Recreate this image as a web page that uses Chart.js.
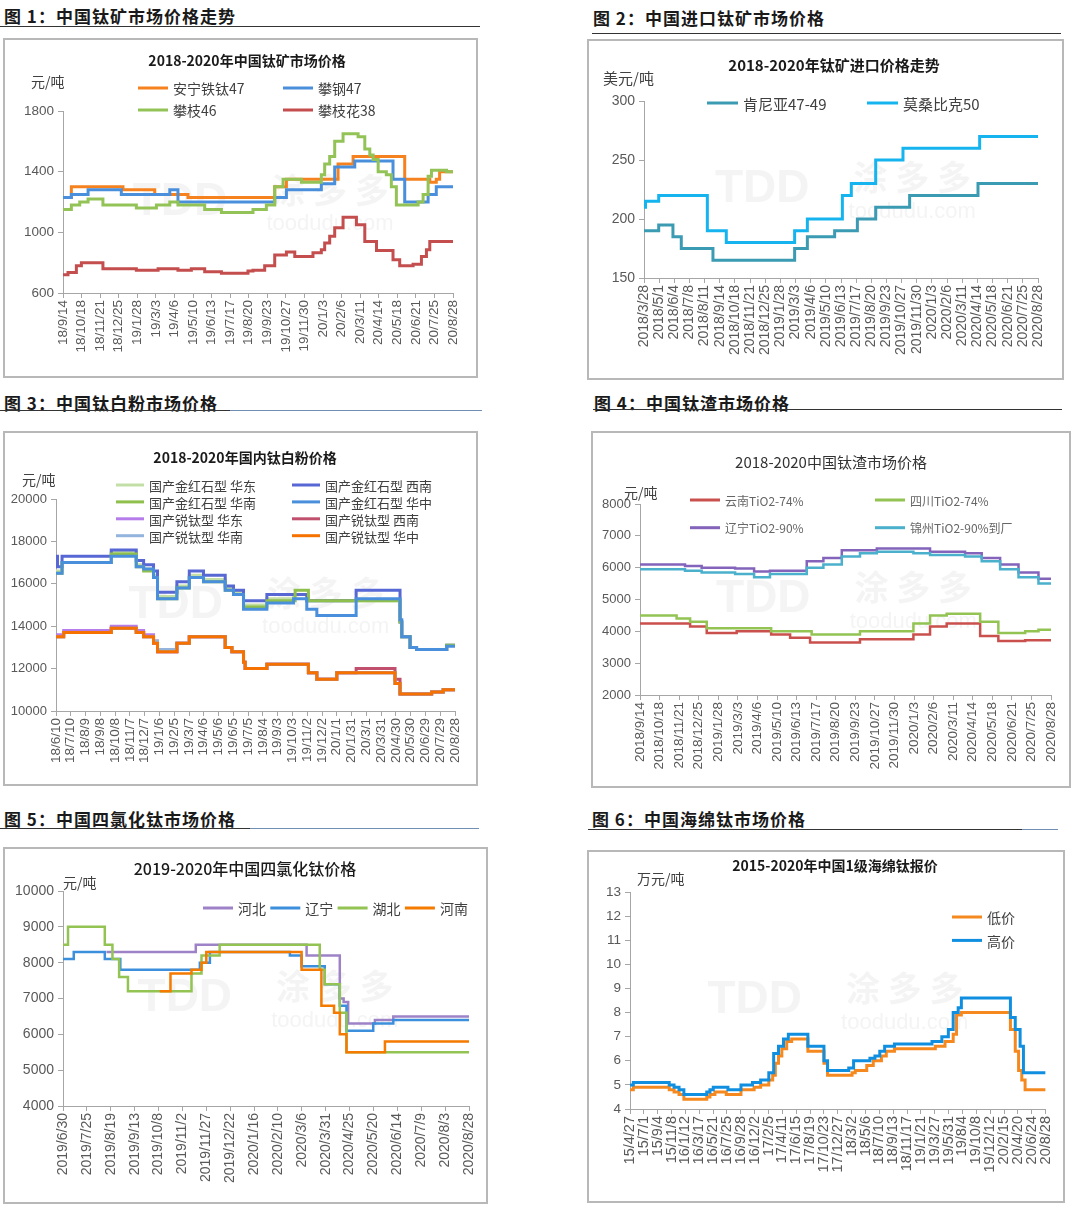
<!DOCTYPE html>
<html>
<head>
<meta charset="utf-8">
<script src="https://cdn.jsdelivr.net/npm/chart.js@4.4.1/dist/chart.umd.min.js"></script>
<style>
  body { margin: 0; background: #fff; }
  #page { position: relative; width: 1080px; height: 1211px; overflow: hidden; }
  .cap { position: absolute; font: bold 17px "Noto Sans CJK SC"; color: #1a1a1a; white-space: nowrap; letter-spacing: 1px; }
  .rule { position: absolute; height: 1px; background: #333; }
  .rule.blue { background: #6f8fb5; }
  canvas { position: absolute; }
  .box { position: absolute; border: 2px solid #b8b8b8; box-sizing: border-box; pointer-events: none; }
</style>
</head>
<body>
<div id="page">
  <div class="cap" style="left:4px;top:3px">图 1：中国钛矿市场价格走势</div>
  <div class="rule" style="left:0;top:26px;width:480px"></div>
  <div class="cap" style="left:593px;top:5px">图 2：中国进口钛矿市场价格</div>
  <div class="rule" style="left:592px;top:33px;width:469px"></div>
  <div class="cap" style="left:4px;top:390px">图 3：中国钛白粉市场价格</div>
  <div class="rule" style="left:0;top:410px;width:230px"></div>
  <div class="rule blue" style="left:230px;top:410px;width:252px"></div>
  <div class="cap" style="left:594px;top:390px">图 4：中国钛渣市场价格</div>
  <div class="rule" style="left:593px;top:409px;width:469px"></div>
  <div class="cap" style="left:4px;top:806px">图 5：中国四氯化钛市场价格</div>
  <div class="rule" style="left:0;top:828px;width:250px"></div>
  <div class="rule blue" style="left:250px;top:828px;width:229px"></div>
  <div class="cap" style="left:592px;top:806px">图 6：中国海绵钛市场价格</div>
  <div class="rule" style="left:588px;top:829px;width:434px"></div>
  <div class="rule blue" style="left:1022px;top:829px;width:36px"></div>

  <canvas id="c1"></canvas><div class="box" id="b1"></div>
  <canvas id="c2"></canvas><div class="box" id="b2"></div>
  <canvas id="c3"></canvas><div class="box" id="b3"></div>
  <canvas id="c4"></canvas><div class="box" id="b4"></div>
  <canvas id="c5"></canvas><div class="box" id="b5"></div>
  <canvas id="c6"></canvas><div class="box" id="b6"></div>
</div>
<script>
// ---------- chart 1: 钛矿 ----------
const c1Labels = ["18/9/14","18/10/18","18/11/21","18/12/25","19/1/28","19/3/3","19/4/6","19/5/10","19/6/13","19/7/17","19/8/20","19/9/23","19/10/27","19/11/30","20/1/3","20/2/6","20/3/11","20/4/14","20/5/18","20/6/21","20/7/25","20/8/28"];
// [position on x axis (label index), price]
const c1Anning = [[0,1230],[0.45,1300],[3.23,1280],[4.94,1250],[6.73,1230],[11.4,1300],[12.03,1350],[14.81,1450],[15.62,1500],[18.4,1350],[19.75,1330],[20.1,1350],[20.28,1400],[21,1400]];
const c1Pangang = [[0,1230],[0.45,1250],[1.35,1280],[3.14,1250],[5.75,1280],[6.19,1200],[11.4,1230],[12.03,1280],[13.91,1320],[14.63,1430],[15.71,1470],[17.77,1350],[18.4,1200],[19.66,1250],[20.1,1300],[21,1300]];
const c1Panzhi46 = [[0,1150],[0.45,1180],[0.9,1200],[1.35,1220],[2.15,1180],[3.95,1160],[5.03,1180],[5.75,1200],[6.19,1180],[7.63,1150],[8.53,1130],[10.23,1150],[10.95,1180],[11.4,1300],[11.85,1350],[12.84,1330],[13.91,1380],[14.09,1450],[14.36,1500],[14.63,1600],[15.08,1650],[15.89,1630],[16.25,1550],[16.52,1510],[16.7,1480],[16.97,1400],[17.41,1380],[17.68,1300],[17.95,1180],[19.12,1200],[19.39,1250],[19.66,1370],[19.84,1410],[20.65,1400],[21,1400]];
const c1Pzh38 = [[0,720],[0.27,735],[0.72,780],[0.99,800],[2.15,760],[3.95,750],[5.12,760],[6.19,750],[6.91,760],[7.63,740],[8.53,730],[9.96,745],[10.23,750],[10.86,780],[11.4,850],[12.03,870],[12.48,840],[13.46,865],[13.91,885],[14.09,930],[14.36,975],[14.63,1030],[15.08,1100],[15.8,1050],[16.25,940],[16.88,880],[17.77,820],[18.13,780],[18.85,790],[19.3,840],[19.57,885],[19.75,940],[21,940]];

// ---------- chart 2: 进口钛矿 ----------
const c2Labels = ["2018/3/28","2018/5/1","2018/6/4","2018/7/8","2018/8/11","2018/9/14","2018/10/18","2018/11/21","2018/12/25","2019/1/28","2019/3/3","2019/4/6","2019/5/10","2019/6/13","2019/7/17","2019/8/20","2019/9/23","2019/10/27","2019/11/30","2020/1/3","2020/2/6","2020/3/11","2020/4/14","2020/5/18","2020/6/21","2020/7/25","2020/8/28"];
const c2Kenya = [[0,190],[0.97,195],[1.91,185],[2.46,175],[4.55,165],[9.94,175],[10.78,185],[12.58,190],[14.08,200],[15.29,210],[17.53,220],[22.04,230],[26,230]];
const c2Mozam = [[0,210],[0.1,215],[0.97,220],[4.18,190],[5.43,180],[9.94,190],[10.78,200],[13.09,220],[13.68,230],[15.29,250],[17.09,260],[22.15,270],[26,270]];

// ---------- chart 3: 钛白粉 ----------
const c3Labels = ["18/6/10","18/7/10","18/8/9","18/9/8","18/10/8","18/11/7","18/12/7","19/1/6","19/2/5","19/3/7","19/4/6","19/5/6","19/6/5","19/7/5","19/8/4","19/9/3","19/10/3","19/11/2","19/12/2","20/1/1","20/1/31","20/3/1","20/3/31","20/4/30","20/5/30","20/6/29","20/7/29","20/8/28"];
const c3RutEast = [[0,16600],[0.41,17000],[3.74,17500],[5.43,16900],[5.93,16700],[6.6,16400],[6.87,15400],[8.18,15900],[9.02,16400],[9.98,16200],[11.45,15800],[12.01,15600],[12.69,15000],[14.27,15300],[16.07,15500],[17.08,15200],[23.28,14200],[23.4,13500],[23.96,13000],[24.4,12900],[26.44,13100],[27,13100]];
const c3RutSW = [[0,17300],[0.1,16800],[0.41,17300],[3.74,17600],[5.43,17100],[5.93,16900],[6.6,16600],[6.87,15600],[8.18,16100],[9.02,16600],[9.98,16400],[11.45,15900],[12.01,15700],[12.69,15200],[14.27,15500],[16.97,15200],[20.31,15700],[23.28,14200],[23.4,13500],[23.96,13000],[24.4,12900],[26.44,13100],[27,13100]];
const c3RutSouth = [[0,16500],[0.41,17000],[3.74,17400],[5.43,16800],[5.93,16600],[6.6,16300],[6.87,15300],[8.18,15800],[9.02,16300],[9.98,16100],[11.45,15700],[12.01,15500],[12.69,14900],[14.27,15200],[16.18,15700],[17.08,15200],[23.28,14200],[23.4,13500],[23.96,13000],[24.4,12900],[26.44,13100],[27,13100]];
const c3RutCentral = [[0,16500],[0.41,17000],[3.74,17300],[5.43,16800],[5.93,16700],[6.6,16300],[6.87,15300],[8.18,15800],[9.02,16300],[9.98,16100],[11.45,15700],[12.01,15500],[12.69,14800],[14.27,15100],[16.07,15300],[16.97,14800],[17.65,14500],[20.31,15300],[23.28,14300],[23.4,13500],[23.96,13000],[24.4,12900],[26.44,13050],[27,13050]];
const c3AnaEast = [[0,13600],[0.52,13800],[3.74,14000],[5.43,13800],[5.93,13600],[6.6,13300],[6.87,12800],[8.18,13200],[9.02,13500],[11.45,13000],[11.9,12800],[12.69,12300],[12.8,12000],[14.27,12200],[17.08,11800],[17.65,11500],[19.0,11800],[22.94,11300],[23.28,10800],[25.42,10900],[26.2,11000],[27,11000]];
const c3AnaSW = [[0,13500],[0.52,13700],[3.74,13900],[5.43,13700],[5.93,13500],[6.6,13200],[6.87,12800],[8.18,13200],[9.02,13500],[11.45,13000],[11.9,12800],[12.69,12300],[12.8,12000],[14.27,12200],[17.08,11800],[17.65,11500],[19.0,11800],[20.31,12000],[22.94,11500],[23.28,10800],[25.42,10900],[26.2,11000],[27,11000]];
const c3AnaSouth = [[0,13500],[0.52,13700],[3.74,13900],[5.43,13700],[5.93,13500],[6.6,13300],[6.87,12900],[8.18,13200],[9.02,13500],[11.45,13000],[11.9,12800],[12.69,12300],[12.8,12000],[14.27,12200],[17.08,11800],[17.65,11500],[19.0,11800],[22.94,11300],[23.28,10800],[25.42,10900],[26.2,11000],[27,11000]];
const c3AnaCentral = [[0,13500],[0.52,13700],[3.74,13900],[5.43,13700],[5.93,13500],[6.6,13200],[6.87,12800],[8.18,13200],[9.02,13500],[11.45,13000],[11.9,12800],[12.69,12300],[12.8,12000],[14.27,12200],[17.08,11800],[17.65,11500],[19.0,11800],[22.94,11300],[23.28,10800],[25.42,10900],[26.2,11000],[27,11000]];

// ---------- chart 4: 钛渣 ----------
const c4Labels = ["2018/9/14","2018/10/18","2018/11/21","2018/12/25","2019/1/28","2019/3/3","2019/4/6","2019/5/10","2019/6/13","2019/7/17","2019/8/20","2019/9/23","2019/10/27","2019/11/30","2020/1/3","2020/2/6","2020/3/11","2020/4/14","2020/5/18","2020/6/21","2020/7/25","2020/8/28"];
const c4Yunnan = [[0,4250],[2.56,4150],[3.41,3950],[4.94,4000],[6.7,3900],[7.67,3800],[8.69,3650],[11.24,3750],[13.97,3900],[14.82,4150],[15.67,4250],[17.38,3850],[18.31,3700],[19.68,3720],[21,3720]];
const c4Sichuan = [[0,4500],[1.87,4400],[2.56,4300],[3.41,4100],[6.7,4000],[8.77,3900],[11.24,4000],[13.97,4250],[14.82,4500],[15.67,4550],[17.38,4300],[18.31,3950],[19.68,4000],[20.36,4050],[21,4050]];
const c4Liaoning = [[0,6100],[2.3,6050],[3.15,6000],[4.86,5970],[5.83,5880],[6.64,5900],[8.52,6200],[9.37,6300],[10.31,6550],[12.1,6600],[14.82,6500],[16.61,6450],[17.46,6300],[18.4,6100],[19.34,5850],[20.36,5650],[21,5650]];
const c4Jinzhou = [[0,5950],[2.3,5900],[3.15,5850],[4.86,5800],[5.83,5700],[6.64,5800],[8.52,6000],[9.37,6100],[10.31,6350],[11.24,6450],[12.1,6500],[13.97,6450],[14.82,6400],[16.61,6350],[17.46,6200],[18.4,5950],[19.34,5700],[20.36,5500],[21,5500]];

// ---------- chart 5: 四氯化钛 ----------
const c5Labels = ["2019/6/30","2019/7/25","2019/8/19","2019/9/13","2019/10/8","2019/11/2","2019/11/27","2019/12/22","2020/1/16","2020/2/10","2020/3/6","2020/3/31","2020/4/25","2020/5/20","2020/6/14","2020/7/9","2020/8/3","2020/8/28"];
const c5Hebei = [[1.82,8300],[5.56,8500],[10.2,8200],[11.59,7000],[11.75,6900],[11.94,6300],[13.06,6400],[13.83,6500],[17,6500]];
const c5Liaoning = [[0,8100],[0.45,8300],[1.75,8100],[2.4,7800],[5.73,8000],[6.15,8300],[9.5,8200],[9.99,7900],[10.96,7400],[11.59,6800],[11.87,6100],[12.99,6300],[13.83,6400],[17,6400]];
const c5Hubei = [[0,8500],[0.21,9000],[1.75,8500],[2.07,8100],[2.35,7600],[2.72,7200],[5.38,7700],[5.8,8200],[6.56,8500],[10.75,7800],[10.96,7400],[11.59,6600],[11.87,5500],[17,5500]];
const c5Henan = [[4.05,7200],[4.5,7700],[5.38,7800],[5.8,8000],[6.0,8300],[9.99,7800],[10.82,6800],[11.35,6600],[11.59,6000],[11.87,5500],[13.48,5800],[17,5800]];

// ---------- chart 6: 海绵钛 ----------
const c6Labels = ["15/4/27","15/7/1","15/9/4","15/11/8","16/1/12","16/3/17","16/5/21","16/7/25","16/9/28","16/12/2","17/2/5","17/4/11","17/6/15","17/8/19","17/10/23","17/12/27","18/3/2","18/5/6","18/7/10","18/9/13","18/11/17","19/1/21","19/3/27","19/5/31","19/8/4","19/10/8","19/12/12","20/2/15","20/4/20","20/6/24","20/8/28"];
const c6Low = [[0,4.8],[0.24,4.9],[2.83,4.8],[3.18,4.7],[3.54,4.6],[3.89,4.4],[5.54,4.5],[5.77,4.6],[6.13,4.7],[6.95,4.6],[8.01,4.8],[8.96,4.9],[9.43,5.0],[10.02,5.2],[10.3,5.4],[10.49,5.9],[10.72,6.2],[10.96,6.5],[11.31,6.8],[11.67,6.9],[12.84,6.4],[14.0,5.9],[14.26,5.4],[16.03,5.5],[16.26,5.6],[17.09,5.8],[17.56,6.0],[18.15,6.2],[18.5,6.4],[19.09,6.5],[22.04,6.6],[22.74,6.8],[23.33,7.1],[23.57,7.9],[23.92,8.0],[27.46,7.3],[27.81,6.4],[28.05,5.6],[28.28,5.2],[28.52,4.8],[30,4.8]];
const c6High = [[0,5.0],[0.24,5.1],[2.83,5.0],[3.18,4.9],[3.54,4.8],[3.89,4.6],[5.54,4.7],[5.77,4.8],[6.01,4.9],[7.07,4.8],[8.01,5.0],[8.84,5.1],[9.43,5.2],[10.02,5.5],[10.37,6.3],[10.72,6.6],[11.08,6.9],[11.43,7.1],[12.84,6.6],[14.0,6.0],[14.26,5.6],[15.79,5.7],[16.14,6.0],[17.32,6.1],[17.68,6.2],[18.03,6.4],[18.38,6.6],[19.09,6.7],[21.8,6.8],[22.51,7.0],[22.98,7.3],[23.33,8.0],[23.69,8.2],[23.92,8.6],[27.46,7.8],[27.81,7.3],[28.16,6.6],[28.4,5.5],[30,5.5]];

const NUM = '"Liberation Sans", Arial, sans-serif';
const CJK = '"Noto Sans CJK SC", sans-serif';
const TICK = '#595959';
const AXIS = '#a6a6a6';

// draws title, unit text, legend and watermark (all in page coordinates)
const deco = {
  id: 'deco',
  beforeDatasetsDraw(chart) {
    const ctx = chart.ctx, a = chart.chartArea;
    ctx.save();
    ctx.fillStyle = 'rgba(215,215,215,0.28)';
    ctx.textBaseline = 'middle';
    ctx.textAlign = 'center';
    const cx = a.left + (a.right - a.left) * 0.3, cy = a.top + (a.bottom - a.top) * 0.5;
    ctx.font = 'bold 46px ' + NUM;
    ctx.fillText('TDD', cx, cy);
    ctx.font = 'bold 34px ' + CJK;
    ctx.fillText('涂 多 多', cx + 150, cy - 12);
    ctx.font = '22px ' + NUM;
    ctx.fillText('toodudu.com', cx + 150, cy + 22);
    ctx.restore();
  },
  afterDraw(chart) {
    const s = chart.options.plugins.deco, ctx = chart.ctx;
    const ox = s.box[0], oy = s.box[1];
    ctx.save();
    ctx.textBaseline = 'middle';
    ctx.fillStyle = s.title.color || '#1a1a1a';
    ctx.font = s.title.font;
    ctx.textAlign = 'center';
    ctx.fillText(s.title.text, s.title.x - ox, s.title.y - oy);
    ctx.fillStyle = '#404040';
    ctx.font = s.unit.font;
    ctx.textAlign = 'left';
    ctx.fillText(s.unit.text, s.unit.x - ox, s.unit.y - oy);
    const L = s.legend;
    chart.data.datasets.forEach((d, i) => {
      const col = i % L.cols, row = Math.floor(i / L.cols);
      const x = L.x + col * L.colW - ox, y = L.y + row * L.rowH - oy;
      ctx.strokeStyle = d.borderColor;
      ctx.lineWidth = L.lw || 3;
      ctx.beginPath(); ctx.moveTo(x, y); ctx.lineTo(x + L.len, y); ctx.stroke();
      ctx.fillStyle = L.color || '#404040';
      ctx.font = L.font;
      ctx.fillText(d.label, x + L.len + 5, y + 1);
    });
    ctx.restore();
  }
};

function makeChart(id, spec) {
  const [bx, by, bw, bh] = spec.box;
  const [pl, pt, pr, pb] = spec.plot;
  const cv = document.getElementById('c' + id);
  cv.width = bw; cv.height = bh;
  cv.style.left = bx + 'px'; cv.style.top = by + 'px';
  const bd = document.getElementById('b' + id);
  Object.assign(bd.style, { left: bx + 'px', top: by + 'px', width: bw + 'px', height: bh + 'px' });
  const n = spec.series.length;
  return new Chart(cv, {
    type: 'line',
    data: {
      datasets: spec.series.map((s, i) => ({
        label: s.name,
        data: s.data.map(p => ({ x: p[0], y: p[1] })),
        borderColor: s.color,
        backgroundColor: s.color,
        borderWidth: spec.lw,
        stepped: true,
        pointRadius: 0,
        fill: false,
        order: n - i
      }))
    },
    options: {
      responsive: false,
      animation: false,
      devicePixelRatio: 1,
      layout: { padding: { top: pt - by, right: bx + bw - pr, left: 0, bottom: 0 } },
      plugins: { legend: { display: false }, title: { display: false }, tooltip: { enabled: false }, deco: spec },
      scales: {
        x: {
          type: 'linear', min: 0, max: spec.labels.length - 1,
          afterFit: sc => { sc.height = by + bh - pb; },
          ticks: {
            stepSize: 1, autoSkip: false, minRotation: 90, maxRotation: 90, padding: 2,
            color: TICK, font: { family: NUM, size: spec.xFont },
            callback: v => spec.labels[v]
          },
          grid: { drawOnChartArea: false, drawTicks: true, tickLength: 5, color: AXIS },
          border: { color: AXIS }
        },
        y: {
          min: spec.y[0], max: spec.y[1],
          afterFit: sc => { sc.width = pl - bx; },
          ticks: { stepSize: spec.y[2], color: TICK, font: { family: NUM, size: spec.yFont }, padding: 4,
                   callback: v => String(v) },
          grid: { drawOnChartArea: false, drawTicks: true, tickLength: 5, color: AXIS },
          border: { color: AXIS }
        }
      }
    },
    plugins: [deco]
  });
}

makeChart(1, {
  box: [3, 38, 475, 340], plot: [63, 111, 453, 293],
  labels: c1Labels, y: [600, 1800, 400], xFont: 13.5, yFont: 13.5, lw: 3,
  title: { text: '2018-2020年中国钛矿市场价格', font: 'bold 14px ' + CJK, x: 247, y: 61 },
  unit: { text: '元/吨', font: '14px ' + CJK, x: 31, y: 82 },
  legend: { x: 138, y: 88, cols: 2, colW: 145, rowH: 22, len: 30, font: '14px ' + CJK },
  series: [
    { name: '安宁铁钛47', color: '#f5821f', data: c1Anning },
    { name: '攀钢47', color: '#4a8fdb', data: c1Pangang },
    { name: '攀枝46', color: '#93c357', data: c1Panzhi46 },
    { name: '攀枝花38', color: '#c44d4d', data: c1Pzh38 }
  ]
});

makeChart(2, {
  box: [587, 39, 477, 341], plot: [644, 101, 1038, 278],
  labels: c2Labels, y: [150, 300, 50], xFont: 14, yFont: 14, lw: 3,
  title: { text: '2018-2020年钛矿进口价格走势', font: 'bold 15px ' + CJK, x: 834, y: 65 },
  unit: { text: '美元/吨', font: '15px ' + CJK, x: 603, y: 78 },
  legend: { x: 707, y: 103, cols: 2, colW: 160, rowH: 22, len: 31, font: '15px ' + CJK },
  series: [
    { name: '肯尼亚47-49', color: '#3a9bb3', data: c2Kenya },
    { name: '莫桑比克50', color: '#16b4ee', data: c2Mozam }
  ]
});

makeChart(3, {
  box: [3, 431, 475, 355], plot: [56, 499, 455, 711],
  labels: c3Labels, y: [10000, 20000, 2000], xFont: 13.5, yFont: 13, lw: 3,
  title: { text: '2018-2020年国内钛白粉价格', font: 'bold 14px ' + CJK, x: 245, y: 458 },
  unit: { text: '元/吨', font: '14px ' + CJK, x: 22, y: 480 },
  legend: { x: 116, y: 485, cols: 2, colW: 176, rowH: 16.9, len: 28, font: '13px ' + CJK },
  series: [
    { name: '国产金红石型 华东', color: '#c3dea6', data: c3RutEast },
    { name: '国产金红石型 西南', color: '#5767d4', data: c3RutSW },
    { name: '国产金红石型 华南', color: '#8fbf4c', data: c3RutSouth },
    { name: '国产金红石型 华中', color: '#4a8fdc', data: c3RutCentral },
    { name: '国产锐钛型 华东', color: '#b67cea', data: c3AnaEast },
    { name: '国产锐钛型 西南', color: '#c0506e', data: c3AnaSW },
    { name: '国产锐钛型 华南', color: '#93b4dc', data: c3AnaSouth },
    { name: '国产锐钛型 华中', color: '#f57200', data: c3AnaCentral }
  ]
});

makeChart(4, {
  box: [591, 431, 480, 357], plot: [640, 504, 1051, 695],
  labels: c4Labels, y: [2000, 8000, 1000], xFont: 13.5, yFont: 13, lw: 2.5,
  title: { text: '2018-2020中国钛渣市场价格', font: '15px ' + CJK, x: 831, y: 462, color: '#333' },
  unit: { text: '元/吨', font: '14px ' + CJK, x: 624, y: 493 },
  legend: { x: 690, y: 500, cols: 2, colW: 185, rowH: 27.7, len: 30, font: '12px ' + CJK, color: '#666' },
  series: [
    { name: '云南TiO2-74%', color: '#c9504c', data: c4Yunnan },
    { name: '四川TiO2-74%', color: '#93c353', data: c4Sichuan },
    { name: '辽宁TiO2-90%', color: '#8364ba', data: c4Liaoning },
    { name: '锦州TiO2-90%到厂', color: '#4bb0cc', data: c4Jinzhou }
  ]
});

makeChart(5, {
  box: [3, 847, 485, 357], plot: [63, 891, 469, 1106],
  labels: c5Labels, y: [4000, 10000, 1000], xFont: 14, yFont: 14, lw: 2.5,
  title: { text: '2019-2020年中国四氯化钛价格', font: '500 16px ' + CJK, x: 245, y: 869 },
  unit: { text: '元/吨', font: '14px ' + CJK, x: 63, y: 883 },
  legend: { x: 203, y: 908, cols: 4, colW: 67.3, rowH: 22, len: 30, font: '14px ' + CJK },
  series: [
    { name: '河北', color: '#9e82c8', data: c5Hebei },
    { name: '辽宁', color: '#3c8fdc', data: c5Liaoning },
    { name: '湖北', color: '#92c353', data: c5Hubei },
    { name: '河南', color: '#f57a00', data: c5Henan }
  ]
});

makeChart(6, {
  box: [587, 850, 478, 353], plot: [630, 892, 1054, 1109],
  labels: c6Labels, y: [4, 13, 1], xFont: 14.5, yFont: 13.5, lw: 3,
  title: { text: '2015-2020年中国1级海绵钛报价', font: 'bold 14px ' + CJK, x: 835, y: 866 },
  unit: { text: '万元/吨', font: '14px ' + CJK, x: 637, y: 879 },
  legend: { x: 952, y: 917, cols: 1, colW: 0, rowH: 23.4, len: 30, font: '14px ' + CJK },
  series: [
    { name: '低价', color: '#f5891f', data: c6Low },
    { name: '高价', color: '#108fe0', data: c6High }
  ]
});
</script>
</body>
</html>
